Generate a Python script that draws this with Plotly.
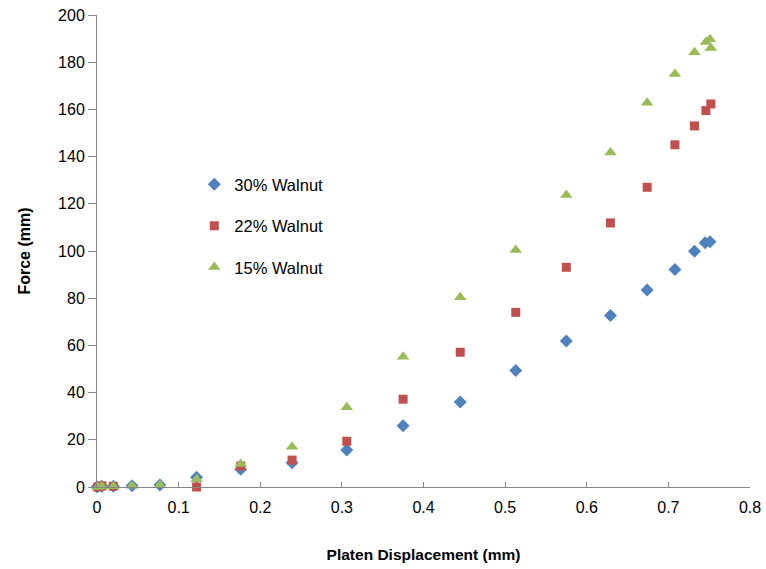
import plotly.graph_objects as go

# Platen displacement (mm) and force readings for each walnut-shell content
disp_30 = [0.0, 0.006, 0.02, 0.043, 0.077, 0.122, 0.176, 0.239, 0.306, 0.375,
           0.445, 0.513, 0.575, 0.629, 0.674, 0.708, 0.732, 0.745, 0.751]
force_30 = [0.0, 0.3, 0.3, 0.5, 0.8, 4.1, 7.5, 10.3, 15.7, 26.0,
            36.0, 49.4, 61.9, 72.7, 83.5, 92.2, 99.9, 103.5, 103.9]

disp_22 = [0.001, 0.006, 0.02, 0.122, 0.176, 0.239, 0.306, 0.375, 0.445,
           0.513, 0.575, 0.629, 0.674, 0.708, 0.732, 0.746, 0.752]
force_22 = [0.0, 0.5, 0.3, 0.0, 8.9, 11.4, 19.4, 37.2, 57.1,
            74.0, 93.1, 111.9, 127.0, 145.0, 153.0, 159.5, 162.3]

disp_15 = [0.001, 0.006, 0.02, 0.043, 0.077, 0.122, 0.176, 0.239, 0.306, 0.375,
           0.445, 0.513, 0.575, 0.629, 0.674, 0.708, 0.732, 0.746, 0.751, 0.752]
force_15 = [0.0, 0.3, 0.3, 0.5, 0.8, 3.3, 9.7, 17.1, 33.8, 55.2,
            80.4, 100.4, 123.7, 141.7, 162.8, 175.0, 184.2, 188.6, 189.7, 186.0]

x_ticks = [0, 0.1, 0.2, 0.3, 0.4, 0.5, 0.6, 0.7, 0.8]
x_tick_labels = ["0", "0.1", "0.2", "0.3", "0.4", "0.5", "0.6", "0.7", "0.8"]
y_ticks = [0, 20, 40, 60, 80, 100, 120, 140, 160, 180, 200]

FONT = "Liberation Sans, Arial, sans-serif"
AXIS_GREY = "#868686"

fig = go.Figure()

series = [
    ("30% Walnut", disp_30, force_30, "diamond", "#4F81BD", 10),
    ("22% Walnut", disp_22, force_22, "square", "#C0504D", 9),
    ("15% Walnut", disp_15, force_15, "triangle-up", "#9BBB59", 11),
]
for i, (name, xs, ys, symbol, color, size) in enumerate(series):
    fig.add_trace(go.Scatter(
        x=xs, y=ys, mode="markers", name=name, legendgroup=f"g{i}",
        marker=dict(symbol=symbol, color=color, size=size, line=dict(width=0)),
        cliponaxis=False,
    ))

fig.update_layout(
    width=766, height=569,
    margin=dict(l=97, r=16, t=15, b=82),
    paper_bgcolor="white", plot_bgcolor="white",
    font=dict(family=FONT, size=16, color="black"),
    showlegend=True,
    legend=dict(
        x=0.149, y=0.678, xanchor="left", yanchor="top",
        traceorder="grouped", tracegroupgap=17,
        font=dict(family=FONT, size=16.5, color="black"),
        bgcolor="rgba(0,0,0,0)", itemwidth=30,
    ),
    xaxis=dict(
        range=[0, 0.8], tickmode="array", tickvals=x_ticks, ticktext=x_tick_labels,
        showgrid=False, zeroline=False, showline=True, linecolor=AXIS_GREY, linewidth=1,
        ticks="inside", ticklen=5, tickcolor=AXIS_GREY, automargin=False,
        title=dict(text="<b>Platen Displacement (mm)</b>", font=dict(size=15.5), standoff=33),
        tickfont=dict(size=16), ticklabelstandoff=6,
    ),
    yaxis=dict(
        range=[0, 200], tickmode="array", tickvals=y_ticks,
        showgrid=False, zeroline=False, showline=True, linecolor=AXIS_GREY, linewidth=1,
        ticks="outside", ticklen=8, tickcolor=AXIS_GREY, automargin=False,
        title=dict(text="<b>Force (mm)</b>", font=dict(size=16), standoff=23),
        tickfont=dict(size=16),
    ),
)

fig.write_html("out.html")
